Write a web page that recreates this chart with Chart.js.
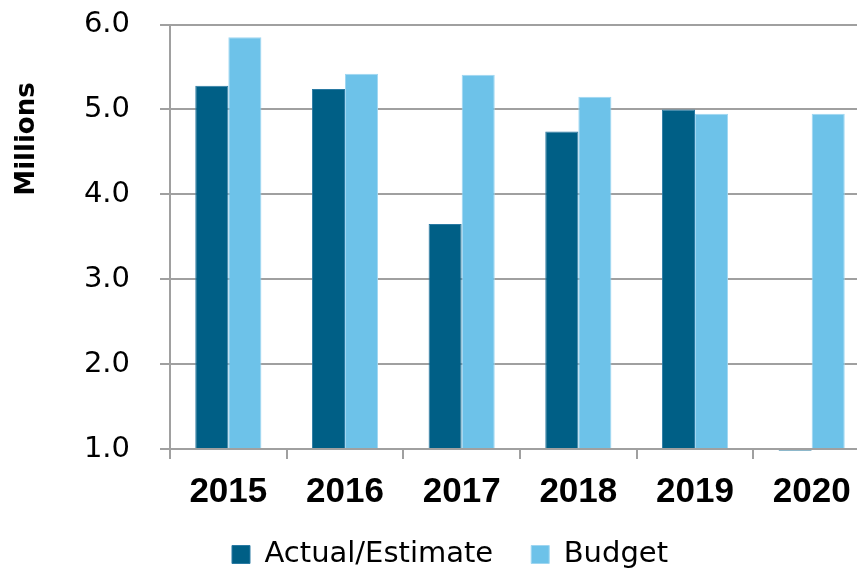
<!DOCTYPE html>
<html>
<head>
<meta charset="utf-8">
<script src="https://cdn.jsdelivr.net/npm/chart.js@4"></script>
<style>
  html, body { margin: 0; padding: 0; background: #fff; overflow: hidden; }
  #wrap { width: 857px; height: 570px; overflow: hidden; position: relative; }
  canvas { display: block; }
</style>
</head>
<body>
<div id="wrap"><canvas id="c" width="900" height="570"></canvas></div>
<script>
const categories = ['2015', '2016', '2017', '2018', '2019', '2020'];
const actualEstimate = [5.28, 5.24, 3.65, 4.74, 5.00, 0.98];
const budget = [5.85, 5.42, 5.41, 5.15, 4.95, 4.95];
const yTicks = [1.0, 2.0, 3.0, 4.0, 5.0, 6.0];
const seriesNames = ['Actual/Estimate', 'Budget'];
const yTitle = 'Millions';
const yMin = 1;
const yMax = 6;

const GRID = '#a0a0a0';

const yTitlePlugin = {
  id: 'yTitlePlugin',
  afterDraw(chart) {
    const ctx = chart.ctx;
    ctx.save();
    ctx.translate(27, 139);
    ctx.rotate(-Math.PI / 2);
    ctx.font = 'bold 26px "DejaVu Sans"';
    ctx.fillStyle = '#000';
    ctx.textAlign = 'center';
    ctx.textBaseline = 'middle';
    ctx.fillText(yTitle, 0, 0);
    ctx.restore();
  }
};

new Chart(document.getElementById('c'), {
  type: 'bar',
  data: {
    labels: categories,
    datasets: [
      {
        label: seriesNames[0],
        data: actualEstimate,
        backgroundColor: '#005F86',
        borderColor: '#2a7aa3',
        borderWidth: 1,
        base: yMin,
        clip: false
      },
      {
        label: seriesNames[1],
        data: budget,
        backgroundColor: '#6DC2E9',
        borderColor: '#9fd6f1',
        borderWidth: 1,
        base: yMin
      }
    ]
  },
  options: {
    responsive: false,
    animation: false,
    devicePixelRatio: 1,
    layout: { padding: { top: 24.6, left: 30, right: 30, bottom: -9 } },
    categoryPercentage: 0.567,
    barPercentage: 1.0,
    plugins: {
      legend: {
        position: 'bottom',
        labels: {
          boxWidth: 18,
          boxHeight: 18,
          padding: 38,
          color: '#000',
          font: { family: '"DejaVu Sans"', size: 29 }
        }
      },
      tooltip: { enabled: false },
      title: { display: false }
    },
    scales: {
      x: {
        grid: {
          offset: true,
          drawOnChartArea: false,
          drawTicks: true,
          tickLength: 10,
          color: GRID,
          lineWidth: 2
        },
        border: { display: true, color: GRID, width: 2 },
        ticks: {
          color: '#000',
          padding: 12,
          font: { family: '"Liberation Sans"', size: 35, weight: 'bold' }
        },
        afterFit(scale) { scale.height = 53; }
      },
      y: {
        min: yMin,
        max: yMax,
        beginAtZero: false,
        afterBuildTicks(scale) { scale.ticks = yTicks.map(v => ({ value: v })); },
        grid: {
          color: GRID,
          lineWidth: 2,
          drawTicks: true,
          tickLength: 10
        },
        border: { display: true, color: GRID, width: 2 },
        ticks: {
          color: '#000',
          padding: 30,
          font: { family: '"DejaVu Sans"', size: 29 },
          callback: (v) => Number(v).toFixed(1)
        },
        afterFit(scale) {
          scale.width = 140;
          scale.paddingTop = 0;
          scale.paddingBottom = 0;
        }
      }
    }
  },
  plugins: [yTitlePlugin]
});
</script>
</body>
</html>
